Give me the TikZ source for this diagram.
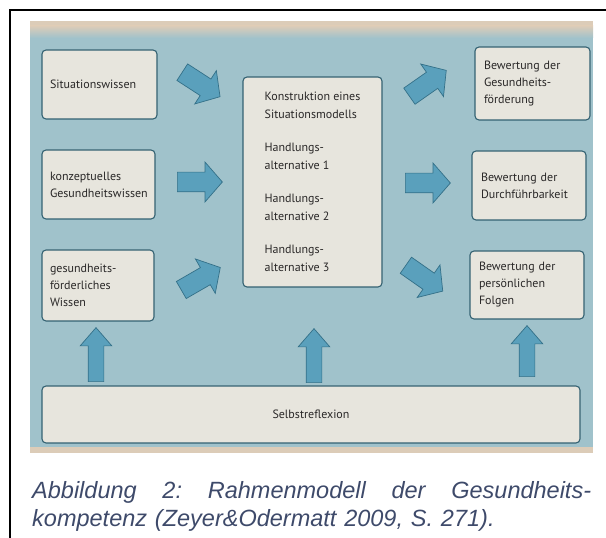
\documentclass[tikz,border=0pt]{standalone}
\usepackage{fontspec}
\setmainfont{PT Sans}
\newfontfamily\capfont{Liberation Sans}
\usetikzlibrary{shapes.arrows}
\definecolor{bgblue}{RGB}{160,194,203}
\definecolor{pagebeige}{RGB}{220,204,184}
\definecolor{boxfill}{RGB}{231,229,221}
\definecolor{boxline}{RGB}{52,98,114}
\definecolor{arrfill}{RGB}{90,160,188}
\definecolor{arrline}{RGB}{52,112,136}
\definecolor{inktext}{RGB}{42,40,40}
\definecolor{capblue}{RGB}{62,74,106}

\begin{document}
\begin{tikzpicture}[x=1pt, y=1pt,
        box/.style={draw=boxline, fill=boxfill, line width=1.1pt, rounded corners=4pt,
                    text=inktext, align=left, inner xsep=8pt, inner ysep=0pt,
                    font=\fontsize{12}{17}\selectfont},
        blk/.style={single arrow, draw=arrline, fill=arrfill, line width=0.7pt,
                    inner xsep=0pt, inner ysep=9.5pt, anchor=tail, minimum height=45pt,
                    single arrow head extend=10pt, single arrow tip angle=98},
        upblk/.style={blk, inner ysep=7.5pt, single arrow head extend=8pt,
                      single arrow tip angle=82, rotate=90}
    ]
    \useasboundingbox (0,0) rectangle (606,538);

    % frame and photo
    \draw[line width=1.6pt] (10,0) -- (10,528) -- (606,528);
    \fill[pagebeige] (30,85) rectangle (593,517);
    \fill[bgblue] (30,91) rectangle (593,500);
    \shade[top color=pagebeige, bottom color=bgblue] (30,500) rectangle (593,512);

    \node[box, text width=99pt, minimum height=69pt] (sit) at (99.5,453.5) {Situationswissen};
    \node[box, text width=97pt, minimum height=69pt] (konz) at (98.5,353.5) {konzeptuelles\\Gesundheitswissen};
    \node[box, text width=96pt, minimum height=71pt] (gesf) at (98,252.5) {gesundheits-\\förderliches\\Wissen};

    \node[box, minimum width=139pt, minimum height=210pt, font=\fontsize{12}{18}\selectfont] (mod) at (312.5,356)
        {Konstruktion eines\\Situationsmodells\\[15pt]Handlungs-\\alternative 1\\[15pt]Handlungs-\\alternative 2\\[15pt]Handlungs-\\alternative 3};

    \node[box, text width=97pt, inner xsep=9pt, minimum height=73pt] (bgf) at (532.5,454.5) {Bewertung der\\Gesundheits-\\förderung};
    \node[box, text width=96pt, inner xsep=9pt, minimum height=69pt] (bdf) at (529,352.5) {Bewertung der\\Durchführbarkeit};
    \node[box, text width=96pt, inner xsep=9pt, minimum height=68pt] (bpf) at (527,253) {Bewertung der\\persönlichen\\Folgen};

    \node[box, align=center, minimum width=538pt, minimum height=57pt] (selbst) at (311,123.5) {Selbstreflexion};

    \node[blk, rotate=-33] (a1) at (182,466) {};
    \node[blk] (a2) at (177,356) {};
    \node[blk, rotate=30] (a3) at (181,247.8) {};
    \node[blk, rotate=35] (b1) at (409.1,441.6) {};
    \node[blk] (b2) at (405,355) {};
    \node[blk, rotate=-35] (b3) at (405.6,272.9) {};
    \node[upblk, minimum height=54pt] (u1) at (96,156) {};
    \node[upblk, minimum height=54pt] (u2) at (314,155) {};
    \node[upblk, minimum height=51pt] (u3) at (527,161) {};

    \node[anchor=base west, inner sep=0pt, text width=559pt, align=left, text=capblue,
          font=\capfont\itshape\fontsize{23.5}{28}\selectfont] (cap) at (32,39)
        {\hbox to 559pt{Abbildung\hfill 2:\hfill Rahmenmodell\hfill der\hfill Gesundheits-}\\kompetenz (Zeyer\&Odermatt 2009, S. 271).};
\end{tikzpicture}
\end{document}
